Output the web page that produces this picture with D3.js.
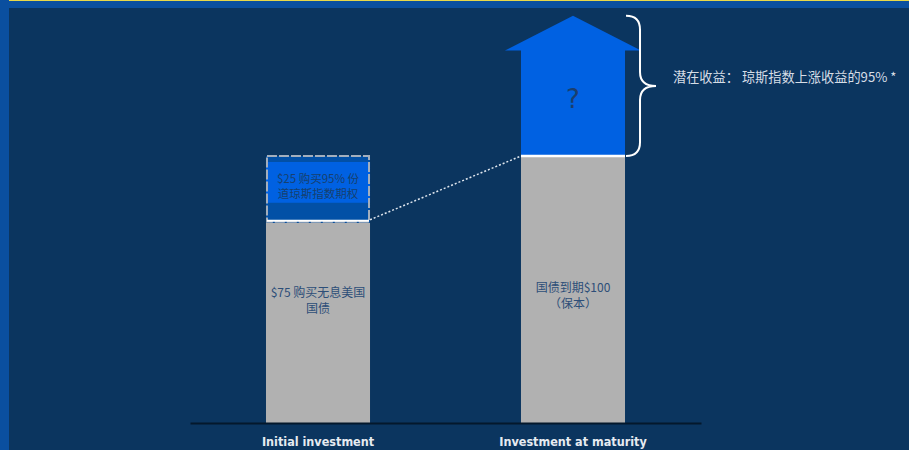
<!DOCTYPE html>
<html>
<head>
<meta charset="utf-8">
<script src="https://cdn.jsdelivr.net/npm/d3@7"></script>
<style>
  html, body { margin: 0; padding: 0; background: #0a4f9f; }
  svg { display: block; }
</style>
</head>
<body>
<svg id="chart" width="909" height="450"></svg>
<script>
// Principal-protected note: where the money goes and what comes back
const categories = ["Initial investment", "Investment at maturity"];
const bondValues = [75, 100];          // zero-coupon treasury / principal returned
const optionValues = [25, 0];          // option premium on top of the bond
const upsideTop = [null, 152.5];       // tip of the "upside" arrow (unknown gain)
const upsideHeadBase = [null, 139.5];  // where the arrow head begins

const bondLabels = [["$75 购买无息美国", "国债"], ["国债到期$100", "（保本）"]];
const optionLabel = ["$25 购买95% 份", "道琼斯指数期权"];
const upsideMark = "?";
const annotation = "潜在收益： 琼斯指数上涨收益的95% *";

const W = 909, H = 450;
const svg = d3.select("#chart");

// frame: blue border with a thin yellow top rule, navy panel inside
svg.append("rect").attr("x", 0).attr("y", 0).attr("width", W).attr("height", H).attr("fill", "#0a4f9f");
svg.append("rect").attr("x", 9).attr("y", 0).attr("width", W - 9).attr("height", 1).attr("fill", "#e8d84a");
svg.append("rect").attr("x", 9).attr("y", 8).attr("width", W - 9).attr("height", H - 8).attr("fill", "#0b355f");

const x = d3.scaleBand().domain(categories).range([190, 701]).paddingInner(0.592).paddingOuter(0.298);
const y = d3.scaleLinear().domain([0, 100]).range([423, 156]);

const cjk = "'Noto Sans CJK SC', 'Noto Sans', sans-serif";

// bond (grey) bars
svg.selectAll("rect.bond").data(categories).join("rect")
  .attr("class", "bond")
  .attr("x", d => x(d))
  .attr("width", x.bandwidth())
  .attr("y", (d, i) => y(bondValues[i]))
  .attr("height", (d, i) => y(0) - y(bondValues[i]))
  .attr("fill", "#b1b1b1");

// option premium segment on the first bar
categories.forEach((c, i) => {
  if (!optionValues[i]) return;
  const y0 = y(bondValues[i]), y1 = y(bondValues[i] + optionValues[i]);
  const bx = x(c), bw = x.bandwidth();
  svg.append("rect").attr("x", bx).attr("y", y1).attr("width", bw).attr("height", y0 - y1)
    .attr("fill", "#0250a6");
  // highlighted caption panel inside the segment
  const py = y1 + 6, ph = (y0 - y1) - 26;
  svg.append("rect").attr("x", bx).attr("y", py).attr("width", bw).attr("height", ph)
    .attr("fill", "#0061e2");
  // dashed outline
  svg.append("rect").attr("x", bx + 1).attr("y", y1).attr("width", bw - 2).attr("height", y0 - y1 - 1)
    .attr("fill", "none").attr("stroke", "#a4afbd").attr("stroke-width", 2)
    .attr("stroke-dasharray", "10,2");
  // white seam
  svg.append("line").attr("x1", bx + 1).attr("x2", bx + bw - 1).attr("y1", y0 - 2).attr("y2", y0 - 2)
    .attr("stroke", "#ffffff").attr("stroke-width", 2);
  const t = svg.append("text").attr("x", bx + bw / 2).attr("y", py + ph / 2 + 1)
    .attr("text-anchor", "middle").attr("fill", "#17406f")
    .style("font-family", cjk).style("font-size", "11.5px");
  optionLabel.forEach((line, k) => t.append("tspan").attr("x", bx + bw / 2).attr("dy", k ? 15 : 0).text(line));
});

// upside arrow on the maturity bar
categories.forEach((c, i) => {
  if (upsideTop[i] == null) return;
  const bx = x(c), bw = x.bandwidth(), cx = bx + bw / 2;
  const base = y(bondValues[i]), tip = y(upsideTop[i]), head = y(upsideHeadBase[i]);
  const wing = 16;
  const pts = [[bx, base], [bx, head], [bx - wing, head], [cx, tip], [bx + bw + wing, head], [bx + bw, head], [bx + bw, base]];
  svg.append("path").attr("d", d3.line()(pts) + "Z").attr("fill", "#0061e2");
  svg.append("line").attr("x1", bx).attr("x2", bx + bw).attr("y1", base).attr("y2", base)
    .attr("stroke", "#ffffff").attr("stroke-width", 2.5);
  svg.append("text").attr("x", cx).attr("y", 108)
    .attr("text-anchor", "middle").attr("fill", "#1b3e6c")
    .style("font-family", "'DejaVu Sans', sans-serif").style("font-size", "26px")
    .text(upsideMark);

  // curly brace spanning the arrow
  const bxr = bx + bw + 1, top = tip, bot = base;
  const mid = (top + bot) / 2, r = 14, pw = 16;
  const bx1 = bxr + r;
  const brace = `M${bxr},${top} Q${bx1},${top} ${bx1},${top + r}`
    + ` L${bx1},${mid - r} Q${bx1},${mid} ${bx1 + pw},${mid}`
    + ` Q${bx1},${mid} ${bx1},${mid + r}`
    + ` L${bx1},${bot - r} Q${bx1},${bot} ${bxr},${bot}`;
  svg.append("path").attr("d", brace).attr("fill", "none").attr("stroke", "#ffffff").attr("stroke-width", 2);

  svg.append("text").attr("x", bx1 + pw + 17).attr("y", mid - 4)
    .attr("fill", "#d6dde6").style("font-family", cjk).style("font-size", "13.2px")
    .text(annotation);
});

// dotted connector from the top of the bond on the first bar to principal at maturity
svg.append("line")
  .attr("x1", x(categories[0]) + x.bandwidth()).attr("y1", y(bondValues[0]) - 3)
  .attr("x2", x(categories[1])).attr("y2", y(bondValues[1]))
  .attr("stroke", "#dfe6ee").attr("stroke-width", 1.5).attr("stroke-dasharray", "2,2");

// bond captions
const captionBase = [297, 292];
categories.forEach((c, i) => {
  const cx = x(c) + x.bandwidth() / 2;
  const t = svg.append("text").attr("x", cx).attr("y", captionBase[i])
    .attr("text-anchor", "middle").attr("fill", "#2d4e78")
    .style("font-family", cjk).style("font-size", "12px");
  bondLabels[i].forEach((line, k) => t.append("tspan").attr("x", cx).attr("dy", k ? 16 : 0).text(line));
});

// baseline and category axis
const axis = svg.append("g").attr("transform", `translate(0,${y(0)})`)
  .call(d3.axisBottom(x).tickSize(0).tickPadding(14));
axis.select(".domain").attr("stroke", "#04182c").attr("stroke-width", 2);
axis.selectAll("text").attr("fill", "#e6ebf1")
  .style("font-family", "'DejaVu Sans Condensed', 'DejaVu Sans', sans-serif")
  .style("font-stretch", "condensed")
  .style("font-size", "12.5px").style("font-weight", "bold");
</script>
</body>
</html>
